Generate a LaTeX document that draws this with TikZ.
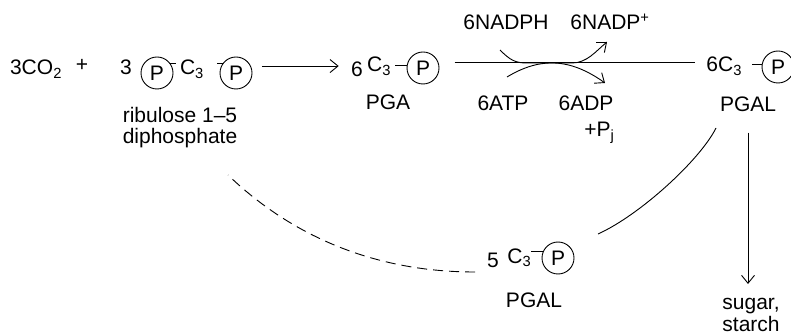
\documentclass[tikz,border=0pt]{standalone}
\usepackage{fontspec}
\setmainfont{Liberation Sans}
\usepackage{tikz}
\usetikzlibrary{arrows.meta}

\begin{document}
\begin{tikzpicture}[x=1pt, y=-1pt, font=\fontsize{21}{21}\selectfont, line width=0.9pt,
    >={Straight Barb[length=8pt, width=13pt]},
    lbl/.style={inner sep=1pt, anchor=base},
    phos/.style={draw, circle, minimum size=32pt, inner sep=0pt}]
      \useasboundingbox (0,0) rectangle (791,336);

      % carbon fixation
      \node[lbl]                    (co2)   at ( 36,  75)   {3CO\textsubscript{2}};
      \node[lbl]                    (plus)  at ( 82,  72)   {+};
      \node[lbl]                    (three) at (126,  75)   {3};
      \node[phos]                   (p1)    at (157,  73)   {P};
      \node[lbl]                    (c1)    at (192,  75)   {C\textsubscript{3}};
      \node[phos]                   (p2)    at (236,  73)   {P};
      \node[align=center, inner sep=1pt] (rubp) at (180, 128) {ribulose 1--5 \\ diphosphate};

      \node[lbl]                    (six)   at (357,  77)   {6};
      \node[lbl]                    (c2)    at (379,  72)   {C\textsubscript{3}};
      \node[phos]                   (p3)    at (423,  68)   {P};
      \node[lbl]                    (pga)   at (388, 110)   {PGA};

      % reduction
      \node[lbl]                    (nadph) at (506,  30)   {6NADPH};
      \node[lbl, anchor=base west]  (nadp)  at (569,  30)   {6NADP\textsuperscript{+}};
      \node[lbl]                    (atp)   at (503, 111)   {6ATP};
      \node[lbl]                    (adp)   at (586, 111)   {6ADP};
      \node[lbl, anchor=base west]  (pi)    at (583, 137)   {+P\textsubscript{j}};

      \node[lbl, anchor=base west]  (c6)    at (705,  72)   {6C\textsubscript{3}};
      \node[phos]                   (p4)    at (778,  67)   {P};
      \node[lbl]                    (pgal)  at (748, 112)   {PGAL};
      \node[align=center, inner sep=1pt, anchor=north] (sugar) at (751, 297) {sugar, \\[1pt] starch};

      % regeneration
      \node[lbl]                    (five)  at (493, 267)   {5};
      \node[lbl, anchor=base west]  (c5)    at (506, 263)   {C\textsubscript{3}};
      \node[phos]                   (p5)    at (558, 258)   {P};
      \node[lbl]                    (pgal5) at (534, 307)   {PGAL};

      \coordinate (nadph-in)  at (500,  50);
      \coordinate (nadp-out)  at (607,  42);
      \coordinate (atp-in)    at (507,  77);
      \coordinate (adp-out)   at (605,  83);
      \coordinate (recyc-top) at (716, 128);
      \coordinate (recyc-end) at (598, 234);
      \coordinate (rubp-in)   at (228, 175);
      \coordinate (pgal5-out) at (475, 272);

      \draw (p1.35) -- +(6,0);
      \draw (p2.145) -- +(-6,0);
      \draw (p3.172) -- +(-12,0);
      \draw (p4.170) -- +(-10,0);
      \draw (p5.155) -- +(-12,0);

      \draw[->, shorten <=11pt, shorten >=11pt] (p2.25) -- (p2.25 -| six.west);
      \draw[shorten <=16pt, shorten >=10pt] (p3.18) -- (p3.18 -| c6.west);

      \draw[->] (nadph-in) .. controls (510,60) and (515,63) .. (527,63) -- (572,63)
                .. controls (587,63) and (596,51) .. (nadp-out);
      \draw[->] (atp-in) .. controls (540,57) and (570,58) .. (adp-out);

      \draw[->, shorten <=19pt, shorten >=13pt] (pgal.south) -- (pgal.south |- sugar.north);
      \draw (recyc-top) .. controls (700,160) and (640,215) .. (recyc-end);
      \draw[dash pattern=on 10pt off 6pt] (pgal5-out) .. controls (360,272) and (280,225) .. (rubp-in);
\end{tikzpicture}
\end{document}
